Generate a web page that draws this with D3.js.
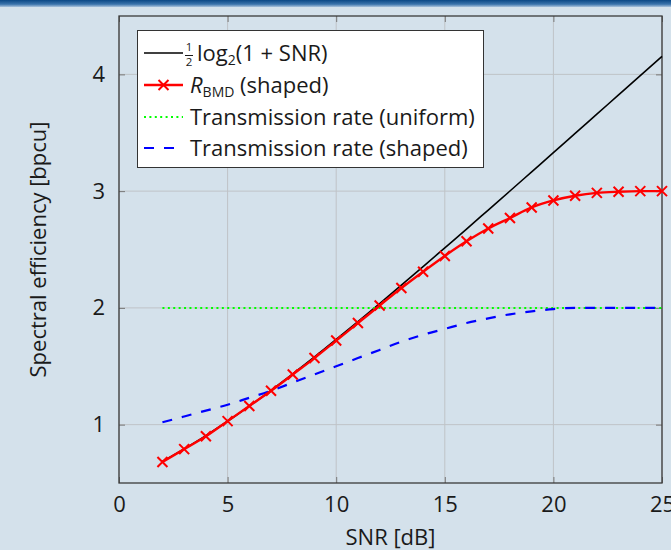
<!DOCTYPE html>
<html>
<head>
<meta charset="utf-8">
<script src="https://cdn.jsdelivr.net/npm/d3@7"></script>
<style>
  body { margin: 0; background: #d4e1eb; }
  svg { display: block; }
  text { font-family: "Open Sans", Lato, sans-serif; fill: #1a1a1a; }
</style>
</head>
<body>
<div id="chart"></div>
<script>
var snr = [2, 3, 4, 5, 6, 7, 8, 9, 10, 11, 12, 13, 14, 15, 16, 17, 18, 19, 20, 21, 22, 23, 24, 25];
var capacity = [0.685, 0.792, 0.906, 1.029, 1.158, 1.294, 1.435, 1.580, 1.730, 1.882, 2.037, 2.194,
  2.353, 2.514, 2.675, 2.838, 3.001, 3.165, 3.329, 3.494, 3.659, 3.824, 3.989, 4.155];
var rBmd = [0.68, 0.79, 0.90, 1.03, 1.16, 1.29, 1.43, 1.57, 1.72, 1.87, 2.02, 2.17,
  2.31, 2.445, 2.57, 2.68, 2.77, 2.86, 2.92, 2.96, 2.985, 2.995, 3.0, 3.0];
var rateUniform = [2, 2, 2, 2, 2, 2, 2, 2, 2, 2, 2, 2, 2, 2, 2, 2, 2, 2, 2, 2, 2, 2, 2, 2];
var rateShaped = [1.02, 1.07, 1.12, 1.17, 1.23, 1.29, 1.36, 1.43, 1.50, 1.57, 1.64, 1.71,
  1.77, 1.82, 1.87, 1.91, 1.945, 1.97, 1.99, 2.0, 2.0, 2.0, 2.0, 2.0];
var xTicks = [0, 5, 10, 15, 20, 25];
var yTicks = [1, 2, 3, 4];

var W = 671, H = 550;
var margin = { top: 16, right: 9, bottom: 67, left: 119 },
  width = W - margin.left - margin.right,
  height = H - margin.top - margin.bottom;
var fs = 22;

var svg = d3.select("#chart").append("svg")
  .attr("width", W)
  .attr("height", H);

// beamer style header strip
var grad = svg.append("defs").append("linearGradient")
  .attr("id", "band").attr("x1", 0).attr("y1", 0).attr("x2", 0).attr("y2", 1);
grad.append("stop").attr("offset", "0%").attr("stop-color", "#0a4785");
grad.append("stop").attr("offset", "60%").attr("stop-color", "#3a73ab");
grad.append("stop").attr("offset", "100%").attr("stop-color", "#a9c3dc");
svg.append("rect").attr("width", W).attr("height", H).attr("fill", "#d4e1eb");
svg.append("rect").attr("width", W).attr("height", 7).attr("fill", "url(#band)");

var g = svg.append("g")
  .attr("transform", "translate(" + margin.left + "," + margin.top + ")");

var x = d3.scaleLinear().domain([0, 25]).range([0, width]);
var y = d3.scaleLinear().domain([0.5, 4.5]).range([height, 0]);

// grid
g.selectAll(".vgrid").data(xTicks).enter().append("line")
  .attr("x1", function (d) { return x(d); }).attr("x2", function (d) { return x(d); })
  .attr("y1", 0).attr("y2", height)
  .attr("stroke", "#bfc3c7").attr("stroke-width", 1);
g.selectAll(".hgrid").data(yTicks).enter().append("line")
  .attr("y1", function (d) { return y(d); }).attr("y2", function (d) { return y(d); })
  .attr("x1", 0).attr("x2", width)
  .attr("stroke", "#bfc3c7").attr("stroke-width", 1);

// axes with inside ticks
function styleAxis(sel) {
  sel.select(".domain").remove();
  sel.selectAll(".tick line").attr("stroke", "#777").attr("stroke-width", 1);
  sel.selectAll(".tick text").attr("font-size", fs).attr("fill", "#1a1a1a");
}
g.append("g").attr("transform", "translate(0," + height + ")")
  .call(d3.axisBottom(x).tickValues(xTicks).tickSize(-6).tickPadding(13).tickFormat(d3.format("d")))
  .call(styleAxis);
g.append("g")
  .call(d3.axisTop(x).tickValues(xTicks).tickSize(-6).tickFormat(""))
  .call(styleAxis);
g.append("g")
  .call(d3.axisLeft(y).tickValues(yTicks).tickSize(-6).tickPadding(14).tickFormat(d3.format("d")))
  .call(styleAxis);
g.append("g").attr("transform", "translate(" + width + ",0)")
  .call(d3.axisRight(y).tickValues(yTicks).tickSize(-6).tickFormat(""))
  .call(styleAxis);

g.append("rect").attr("width", width).attr("height", height)
  .attr("fill", "none").attr("stroke", "#3a3a3a").attr("stroke-width", 1.3);

// curves
function lineFor(vals) {
  return d3.line()
    .x(function (d, i) { return x(snr[i]); })
    .y(function (d) { return y(d); })
    .curve(d3.curveMonotoneX)(vals);
}
g.append("path").attr("d", lineFor(capacity))
  .attr("fill", "none").attr("stroke", "#000").attr("stroke-width", 1.6);
g.append("path").attr("d", lineFor(rateUniform))
  .attr("fill", "none").attr("stroke", "#00ff00").attr("stroke-width", 2)
  .attr("stroke-dasharray", "2,3.4");
g.append("path").attr("d", lineFor(rateShaped))
  .attr("fill", "none").attr("stroke", "#0000ff").attr("stroke-width", 2.2)
  .attr("stroke-dasharray", "10,10");
g.append("path").attr("d", lineFor(rBmd))
  .attr("fill", "none").attr("stroke", "#ff0000").attr("stroke-width", 2.4);

function cross(sel, s) {
  sel.append("path")
    .attr("d", "M" + (-s) + "," + (-s) + "L" + s + "," + s + "M" + (-s) + "," + s + "L" + s + "," + (-s))
    .attr("stroke", "#ff0000").attr("stroke-width", 2).attr("fill", "none");
}
g.selectAll(".mark").data(rBmd).enter().append("g")
  .attr("transform", function (d, i) { return "translate(" + x(snr[i]) + "," + y(d) + ")"; })
  .each(function () { cross(d3.select(this), 5); });

// axis labels
svg.append("text").attr("x", margin.left + width / 2).attr("y", 545)
  .attr("text-anchor", "middle").attr("font-size", fs).text("SNR [dB]");
svg.append("text").attr("transform", "translate(46," + (margin.top + height / 2) + ")rotate(-90)")
  .attr("text-anchor", "middle").attr("font-size", fs).text("Spectral efficiency [bpcu]");

// legend
var lg = svg.append("g");
lg.append("rect").attr("x", 137.5).attr("y", 30.5).attr("width", 346).attr("height", 137)
  .attr("fill", "#fff").attr("stroke", "#333").attr("stroke-width", 1);
var rowY = [53, 85, 117, 148];
var x0 = 144, x1 = 183, tx = 190;
lg.append("line").attr("x1", x0).attr("x2", x1).attr("y1", rowY[0]).attr("y2", rowY[0])
  .attr("stroke", "#000").attr("stroke-width", 1.6);
lg.append("line").attr("x1", x0).attr("x2", x1).attr("y1", rowY[1]).attr("y2", rowY[1])
  .attr("stroke", "#ff0000").attr("stroke-width", 2.4);
cross(lg.append("g").attr("transform", "translate(" + ((x0 + x1) / 2) + "," + rowY[1] + ")"), 5);
lg.append("line").attr("x1", x0).attr("x2", x1).attr("y1", rowY[2]).attr("y2", rowY[2])
  .attr("stroke", "#00ff00").attr("stroke-width", 2).attr("stroke-dasharray", "2,3.4");
lg.append("line").attr("x1", x0).attr("x2", x1).attr("y1", rowY[3]).attr("y2", rowY[3])
  .attr("stroke", "#0000ff").attr("stroke-width", 2.2).attr("stroke-dasharray", "10,10");

// 1/2 log2(1 + SNR)
lg.append("text").attr("x", 189).attr("y", 50.5).attr("text-anchor", "middle").attr("font-size", 11.5).text("1");
lg.append("line").attr("x1", 185).attr("x2", 193).attr("y1", 55.5).attr("y2", 55.5).attr("stroke", "#1a1a1a").attr("stroke-width", 1);
lg.append("text").attr("x", 189).attr("y", 66).attr("text-anchor", "middle").attr("font-size", 11.5).text("2");
var t1 = lg.append("text").attr("x", 197).attr("y", 61).attr("font-size", fs);
t1.append("tspan").text("log");
t1.append("tspan").attr("font-size", 14).attr("dy", 4).text("2");
t1.append("tspan").attr("dy", -4).text("(1 + SNR)");

var t2 = lg.append("text").attr("x", tx).attr("y", 93).attr("font-size", fs);
t2.append("tspan").attr("font-style", "italic").text("R");
t2.append("tspan").attr("font-size", 14).attr("dy", 4).text("BMD");
t2.append("tspan").attr("dy", -4).text(" (shaped)");

lg.append("text").attr("x", tx).attr("y", 125).attr("font-size", fs).text("Transmission rate (uniform)");
lg.append("text").attr("x", tx).attr("y", 156).attr("font-size", fs).text("Transmission rate (shaped)");
</script>
</body>
</html>
